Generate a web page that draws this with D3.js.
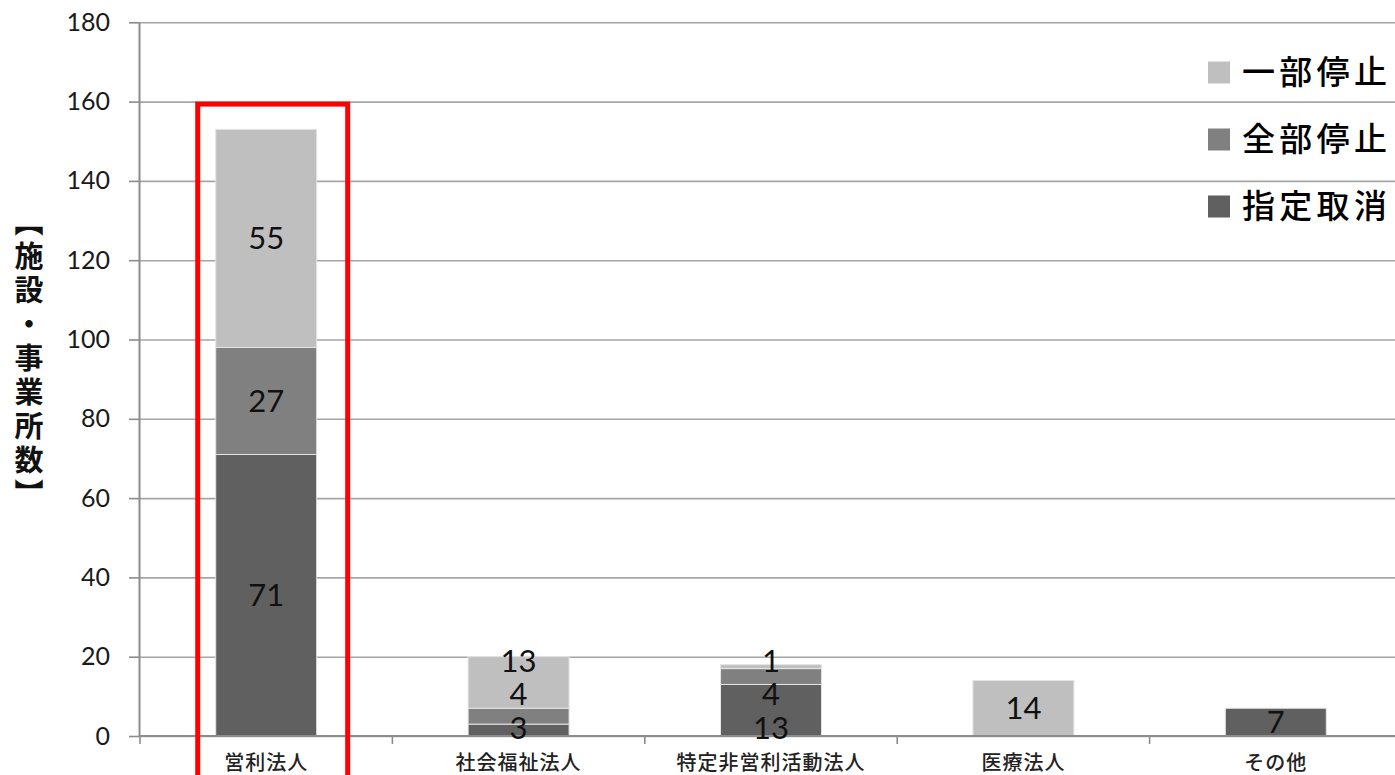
<!DOCTYPE html>
<html>
<head>
<meta charset="utf-8">
<script src="https://cdn.jsdelivr.net/npm/d3@7"></script>
<style>
  body { margin: 0; background: #fff; overflow: hidden; }
  svg { display: block; }
</style>
</head>
<body>
<svg id="svg" width="1395" height="775"></svg>
<script>
// data
var categories = ["営利法人", "社会福祉法人", "特定非営利活動法人", "医療法人", "その他"];
var seriesNames = ["指定取消", "全部停止", "一部停止"];
var cancelValues = [71, 3, 13, 0, 7];      // 指定取消
var fullStopValues = [27, 4, 4, 0, 0];     // 全部停止
var partStopValues = [55, 13, 1, 14, 0];   // 一部停止
var yTicks = [0, 20, 40, 60, 80, 100, 120, 140, 160, 180];
var highlightCategory = "営利法人";
var yTitle = "【施設・事業所数】";

var seriesColors = {"指定取消": "#606060", "全部停止": "#808080", "一部停止": "#bfbfbf"};

var svg = d3.select("#svg");

var rows = categories.map(function (c, i) {
    return {cat: c, "指定取消": cancelValues[i], "全部停止": fullStopValues[i], "一部停止": partStopValues[i]};
});
var stacked = d3.stack().keys(seriesNames)(rows);

var xScale = d3.scaleBand()
    .domain(categories)
    .range([140, 1402])
    .paddingInner(0.6)
    .paddingOuter(0.3);

var yScale = d3.scaleLinear()
    .domain([0, 180])
    .range([736, 22.3]);

var axisX = 139;

// gridlines
svg.append("g")
    .attr("transform", "translate(" + axisX + ",0)")
    .call(d3.axisLeft(yScale).tickValues(yTicks).tickSize(-(1402 - axisX)).tickFormat(""))
    .call(function (g) {
        g.select(".domain").remove();
        g.selectAll("line").attr("stroke", "#a6a6a6").attr("stroke-width", 1.6);
    });

// y axis with stubs and labels
svg.append("g")
    .attr("transform", "translate(" + axisX + ",0)")
    .call(d3.axisLeft(yScale).tickValues(yTicks).tickSize(10).tickPadding(19).tickSizeOuter(0))
    .call(function (g) {
        g.select(".domain").attr("stroke", "#8c8c8c").attr("stroke-width", 2);
        g.selectAll("line").attr("stroke", "#8c8c8c").attr("stroke-width", 1.6);
        g.selectAll("text")
            .attr("fill", "#1a1a1a")
            .style("font-family", "Lato, 'Liberation Sans', sans-serif")
            .style("font-size", "25px");
    });

// bars
var layers = svg.append("g").selectAll("g")
    .data(stacked)
    .join("g")
    .attr("fill", function (d) { return seriesColors[d.key]; });

layers.selectAll("rect")
    .data(function (d) { return d; })
    .join("rect")
    .attr("x", function (d) { return xScale(d.data.cat); })
    .attr("width", xScale.bandwidth())
    .attr("y", function (d) { return yScale(d[1]); })
    .attr("height", function (d) { return yScale(d[0]) - yScale(d[1]); })
    .attr("stroke", "#e4e4e4")
    .attr("stroke-width", 1);

// x axis line and boundary ticks
var step = xScale.step();
svg.append("line")
    .attr("x1", axisX).attr("x2", 1402)
    .attr("y1", yScale(0)).attr("y2", yScale(0))
    .attr("stroke", "#8c8c8c").attr("stroke-width", 2);

svg.append("g").selectAll("line")
    .data(categories)
    .join("line")
    .attr("x1", function (d) { return xScale(d) - step * 0.3; })
    .attr("x2", function (d) { return xScale(d) - step * 0.3; })
    .attr("y1", yScale(0))
    .attr("y2", yScale(0) + 8)
    .attr("stroke", "#8c8c8c").attr("stroke-width", 1.6);

svg.append("g").selectAll("text")
    .data(categories)
    .join("text")
    .attr("x", function (d) { return xScale(d) + xScale.bandwidth() / 2; })
    .attr("y", 763)
    .attr("dy", "0.35em")
    .attr("text-anchor", "middle")
    .attr("fill", "#222")
    .style("font-family", "'Noto Sans CJK JP', sans-serif")
    .style("font-size", "20px")
    .style("font-weight", 500)
    .style("letter-spacing", "1px")
    .text(function (d) { return d; });

// data labels, spread out when they would collide
var labels = [];
categories.forEach(function (c, i) {
    var list = [];
    stacked.forEach(function (s) {
        var seg = s[i];
        var v = seg[1] - seg[0];
        if (v > 0) list.push({cat: c, value: v, y: yScale((seg[0] + seg[1]) / 2)});
    });
    var crowded = false;
    for (var k = 1; k < list.length; k++) {
        if (list[k - 1].y - list[k].y < 34) crowded = true;
    }
    if (crowded) {
        list.forEach(function (l, k) { l.y = yScale(0) - 8 - k * 33.5; });
    }
    labels = labels.concat(list);
});

svg.append("g").selectAll("text")
    .data(labels)
    .join("text")
    .attr("x", function (d) { return xScale(d.cat) + xScale.bandwidth() / 2; })
    .attr("y", function (d) { return d.y; })
    .attr("dy", "0.35em")
    .attr("text-anchor", "middle")
    .attr("fill", "#111")
    .style("font-family", "Lato, 'Liberation Sans', sans-serif")
    .style("font-size", "31px")
    .text(function (d) { return d.value; });

// red highlight box
svg.append("rect")
    .attr("x", xScale(highlightCategory) - 18)
    .attr("y", yScale(160) + 2.5)
    .attr("width", xScale.bandwidth() + 49)
    .attr("height", 800)
    .attr("fill", "none")
    .attr("stroke", "#ff0000")
    .attr("stroke-width", 5);

// legend
var legend = svg.append("g").selectAll("g")
    .data(seriesNames.slice().reverse())
    .join("g")
    .attr("transform", function (d, i) { return "translate(1208," + (72.5 + i * 67) + ")"; });

legend.append("rect")
    .attr("x", 0).attr("y", -11)
    .attr("width", 22).attr("height", 22)
    .attr("fill", function (d) { return seriesColors[d]; });

legend.append("text")
    .attr("x", 34)
    .attr("dy", "0.36em")
    .attr("fill", "#000")
    .style("font-family", "'Noto Sans CJK JP', sans-serif")
    .style("font-size", "33px")
    .style("font-weight", 500)
    .style("letter-spacing", "4.3px")
    .text(function (d) { return d; });

// y axis title, vertical
svg.append("text")
    .attr("x", 29)
    .attr("y", 360)
    .attr("text-anchor", "middle")
    .attr("fill", "#111")
    .style("writing-mode", "vertical-rl")
    .style("font-family", "'Noto Sans CJK JP', sans-serif")
    .style("font-size", "29px")
    .style("font-weight", "bold")
    .style("letter-spacing", "5px")
    .text(yTitle);
</script>
</body>
</html>
